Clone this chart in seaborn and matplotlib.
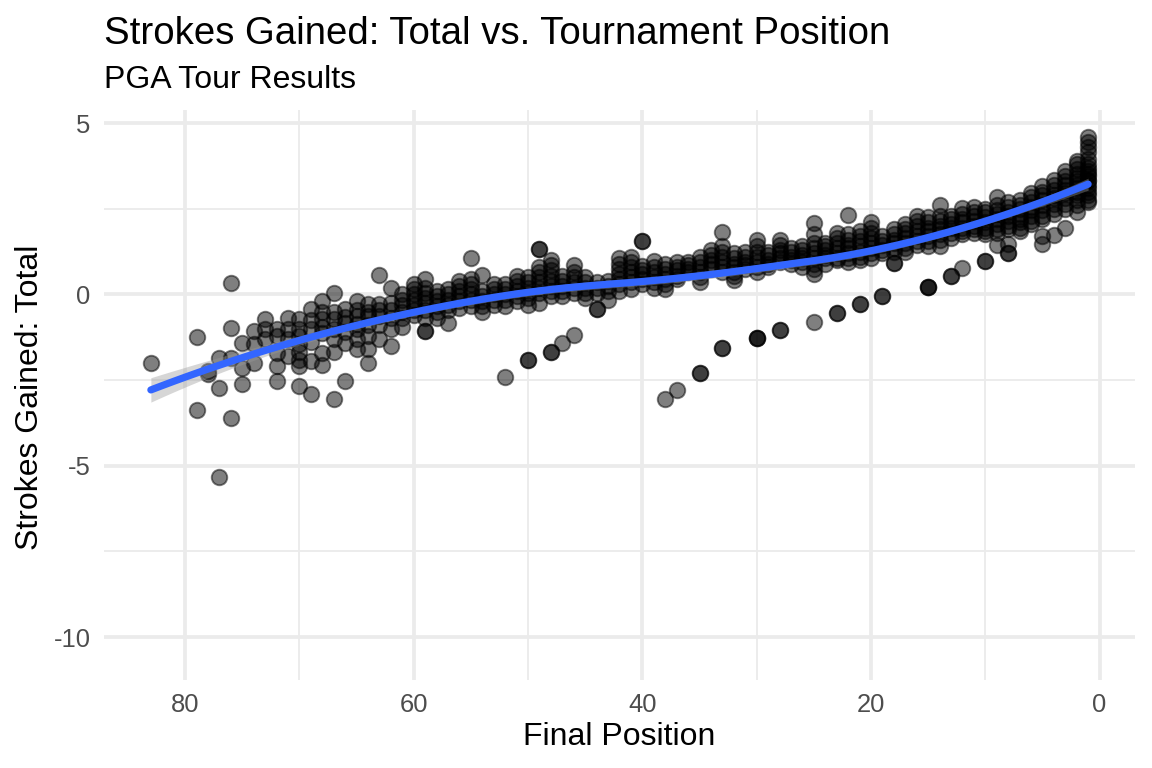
import matplotlib
matplotlib.use("Agg")
import matplotlib.pyplot as plt
import numpy as np
import pandas as pd
import seaborn as sns

# finishing positions and the strokes-gained values recorded at each one
positions = list(range(1, 80)) + [83]
sg_by_position = [
    [4.6, 4.45, 4.3, 4.15, 3.95, 3.8, 3.7, 3.6, 3.5, 3.45, 3.35, 3.3, 3.2, 3.1, 3.0, 2.9, 2.75, 2.7],  # 1
    [3.9, 3.8, 3.65, 3.5, 3.4, 3.3, 3.2, 3.1, 3.0, 2.9, 2.75, 2.6, 2.4],
    [3.6, 3.45, 3.3, 3.2, 3.05, 2.95, 2.8, 2.65, 2.5, 1.95],
    [3.35, 3.2, 3.05, 2.9, 2.8, 2.65, 2.5, 2.35, 1.72],
    [3.15, 3.0, 2.9, 2.75, 2.6, 2.45, 2.3, 2.2, 1.7, 1.46],  # 5
    [2.95, 2.85, 2.7, 2.55, 2.45, 2.3, 2.15, 2.05],
    [2.75, 2.6, 2.5, 2.35, 2.2, 2.1, 1.95, 1.85],
    [2.7, 2.55, 2.4, 2.3, 2.15, 2.0, 1.9, 1.46, 1.22, 1.22],
    [2.85, 2.6, 2.45, 2.35, 2.2, 2.05, 1.9, 1.8, 1.43],
    [2.5, 2.4, 2.25, 2.1, 1.95, 1.85, 1.75, 0.97, 0.97],  # 10
    [2.55, 2.4, 2.3, 2.15, 2.0, 1.9, 1.8],
    [2.53, 2.35, 2.2, 2.1, 1.95, 1.85, 1.75, 0.76],
    [2.3, 2.2, 2.05, 1.95, 1.8, 1.65, 0.53, 0.53],
    [2.62, 2.3, 2.15, 2.0, 1.9, 1.75, 1.6, 1.4],
    [2.25, 2.1, 1.95, 1.85, 1.7, 1.55, 1.4, 0.21, 0.21, 0.21],  # 15
    [2.3, 2.15, 2.0, 1.85, 1.7, 1.55, 1.45],
    [2.05, 1.9, 1.8, 1.65, 1.5, 1.35, 1.25],
    [1.9, 1.75, 1.6, 1.5, 1.35, 1.25, 0.92, 0.92],
    [1.7, 1.55, 1.45, 1.3, 1.2, -0.05, -0.05],
    [2.1, 1.95, 1.8, 1.65, 1.5, 1.35, 1.2, 1.05],  # 20
    [1.85, 1.7, 1.55, 1.4, 1.25, 1.1, 1.0, -0.29, -0.29],
    [2.33, 1.75, 1.6, 1.45, 1.35, 1.2, 1.05, 0.95],
    [1.8, 1.65, 1.5, 1.35, 1.2, 1.05, 1.0, -0.55, -0.55],
    [1.5, 1.4, 1.3, 1.15, 1.05, 0.9],
    [2.09, 1.75, 1.5, 1.35, 1.2, 1.05, 0.9, 0.75, 0.6, -0.8],  # 25
    [1.4, 1.3, 1.15, 1.05, 0.95, 0.8],
    [1.35, 1.25, 1.1, 1.0, 0.9],
    [1.6, 1.45, 1.3, 1.2, 1.05, 0.95, -1.04, -1.04],
    [1.25, 1.15, 1.0, 0.9, 0.8],
    [1.6, 1.4, 1.25, 1.1, 0.95, 0.8, 0.65, -1.28, -1.28, -1.28],  # 30
    [1.25, 1.1, 0.95, 0.85, 0.75],
    [1.2, 1.05, 0.9, 0.8, 0.65, 0.55, 0.42],
    [1.83, 1.4, 1.25, 1.1, 0.95, 0.8, 0.65, -1.55, -1.55],
    [1.3, 1.15, 1.0, 0.9, 0.75],
    [1.1, 0.95, 0.8, 0.65, 0.5, 0.35, -2.28, -2.28],  # 35
    [0.95, 0.85, 0.75, 0.65],
    [0.95, 0.8, 0.7, 0.55, 0.45, -2.8],
    [0.9, 0.75, 0.6, 0.45, 0.3, 0.15, -3.04],
    [0.97, 0.8, 0.65, 0.5, 0.35, 0.2],
    [1.57, 1.57, 0.83, 0.7, 0.6, 0.45, 0.3],  # 40
    [1.1, 0.95, 0.8, 0.65, 0.5, 0.35, 0.15],
    [1.05, 0.9, 0.75, 0.6, 0.45, 0.3, 0.1],
    [0.4, 0.25, 0.1, -0.15],
    [0.35, 0.2, 0.05, -0.42, -0.42],
    [0.5, 0.35, 0.2, 0.05, -0.1],  # 45
    [0.85, 0.65, 0.5, 0.35, 0.2, 0.05, -1.17],
    [0.55, 0.4, 0.25, 0.1, -0.05, -1.41],
    [1.0, 0.85, 0.7, 0.55, 0.4, 0.25, 0.1, -0.05, -1.67, -1.67],
    [1.33, 1.33, 0.8, 0.65, 0.5, 0.35, 0.2, 0.05, -0.25],
    [0.5, 0.35, 0.2, 0.05, -0.1, -0.3, -1.92, -1.92],  # 50
    [0.55, 0.4, 0.25, 0.1, -0.05, -0.2],
    [0.3, 0.15, 0.0, -0.15, -0.35, -2.41],
    [0.3, 0.15, 0.0, -0.15, -0.3],
    [0.58, 0.1, -0.05, -0.2, -0.35, -0.5],
    [1.07, 0.45, 0.3, 0.15, 0.0, -0.15, -0.35],  # 55
    [0.4, 0.25, 0.1, -0.05, -0.2, -0.4],
    [0.15, 0.0, -0.15, -0.3, -0.45, -0.83],
    [0.1, -0.05, -0.2, -0.35, -0.5, -0.7],
    [0.44, 0.2, 0.05, -0.1, -0.25, -0.45, -0.7, -1.07, -1.07],
    [0.3, 0.15, 0.0, -0.15, -0.3, -0.45, -0.6],  # 60
    [0.0, -0.15, -0.3, -0.5, -0.7, -0.95],
    [0.19, -0.25, -0.45, -0.7, -1.02, -1.5],
    [0.56, -0.27, -0.45, -0.63, -0.9, -1.31],
    [-0.27, -0.5, -0.63, -0.9, -1.22, -1.6, -2.0],
    [-0.2, -0.45, -0.63, -0.85, -1.02, -1.31, -1.6],  # 65
    [-0.44, -0.65, -0.83, -1.1, -1.41, -2.53],
    [0.05, -0.5, -0.73, -1.0, -1.31, -1.69, -3.04],
    [-0.2, -0.5, -0.73, -0.95, -1.12, -1.7, -2.07],
    [-0.44, -0.75, -1.0, -1.4, -1.94, -2.92],
    [-0.73, -1.0, -1.22, -1.45, -1.69, -1.9, -2.09, -2.67],  # 70
    [-0.68, -1.0, -1.3, -1.8],
    [-1.02, -1.22, -1.7, -2.09, -2.53],
    [-0.73, -1.0, -1.31],
    [-1.07, -1.45, -1.99],
    [-1.43, -2.14, -2.6],  # 75
    [0.34, -0.97, -1.85, -3.6],
    [-1.85, -2.72, -5.34],
    [-2.24, -2.33],
    [-1.23, -3.37],
    [-2.0],  # 83
]

x_major = [80, 60, 40, 20, 0]
x_minor = [70, 50, 30, 10]
y_major = [-10, -5, 0, 5]
y_minor = [-7.5, -2.5, 2.5]

df = pd.DataFrame({
    "position": np.repeat(positions, [len(v) for v in sg_by_position]),
    "sg_total": np.concatenate([np.asarray(v, dtype=float) for v in sg_by_position]),
})


def loess_fit(x, y, grid, span=0.75):
    """Local quadratic fit with tricube weights (like R's loess defaults)."""
    n = len(x)
    q = int(np.floor(n * span))

    def operator(x0):
        d = np.abs(x - x0)
        h = np.sort(d)[q - 1]
        w = np.clip(1 - (d / h) ** 3, 0, None) ** 3
        X = np.column_stack([np.ones(n), x - x0, (x - x0) ** 2])
        XtW = X.T * w
        return np.linalg.solve(XtW @ X, XtW)[0]

    L_data = np.array([operator(v) for v in x])
    resid = y - L_data @ y
    dof = n - np.trace(L_data)
    sigma = np.sqrt(np.sum(resid ** 2) / dof)
    L_grid = np.array([operator(v) for v in grid])
    fit = L_grid @ y
    se = sigma * np.sqrt(np.sum(L_grid ** 2, axis=1))
    return fit, se


xs = df["position"].to_numpy(float)
ys = df["sg_total"].to_numpy(float)
grid = np.linspace(xs.min(), xs.max(), 80)
fit, se = loess_fit(xs, ys, grid)
smooth = pd.DataFrame({"position": grid, "fit": fit,
                       "lo": fit - 1.96 * se, "hi": fit + 1.96 * se})

sns.set_theme(style="white")
plt.rcParams["font.family"] = ["Liberation Sans", "DejaVu Sans"]

W, H = 1152, 768
fig = plt.figure(figsize=(6, 4), dpi=192)
fig.patch.set_facecolor("white")
ax = fig.add_axes([104 / W, 1 - 680 / H, (1135 - 104) / W, (680 - 110) / H])

sns.scatterplot(data=df, x="position", y="sg_total", color="black", alpha=0.5,
                s=34, edgecolor="black", linewidth=0.7, ax=ax, zorder=3)
ax.fill_between(smooth["position"], smooth["lo"], smooth["hi"],
                color="#999999", alpha=0.4, linewidth=0, zorder=4)
sns.lineplot(data=smooth, x="position", y="fit", color="#3366FF",
             linewidth=2.7, ax=ax, zorder=5)

ax.set_xlim(87.1, -3.1)
ax.set_ylim(-11.25, 5.38)
ax.set_xticks(x_major)
ax.set_xticks(x_minor, minor=True)
ax.set_yticks(y_major)
ax.set_yticks(y_minor, minor=True)
ax.set_xticklabels([str(v) for v in x_major])
ax.set_yticklabels([str(v) for v in y_major])
ax.grid(which="major", color="#EBEBEB", linewidth=1.4, zorder=0)
ax.grid(which="minor", color="#EBEBEB", linewidth=0.7, zorder=0)
ax.set_axisbelow(True)
for s in ax.spines.values():
    s.set_visible(False)
ax.tick_params(which="both", length=0, labelsize=9.6, labelcolor="#4D4D4D", pad=5)
ax.set_xlabel("")
ax.set_ylabel("")

fig.text(104 / W, 1 - 44 / H, "Strokes Gained: Total vs. Tournament Position",
         fontsize=14.4, ha="left", va="baseline", color="black")
fig.text(104 / W, 1 - 88 / H, "PGA Tour Results",
         fontsize=12, ha="left", va="baseline", color="black")
fig.text(619.5 / W, 1 - 745 / H, "Final Position",
         fontsize=12, ha="center", va="baseline", color="black")
fig.text(30 / W, 1 - 397 / H, "Strokes Gained: Total", rotation=90,
         fontsize=12, ha="center", va="center", color="black")

fig.savefig("out.png", dpi=192, facecolor="white")
